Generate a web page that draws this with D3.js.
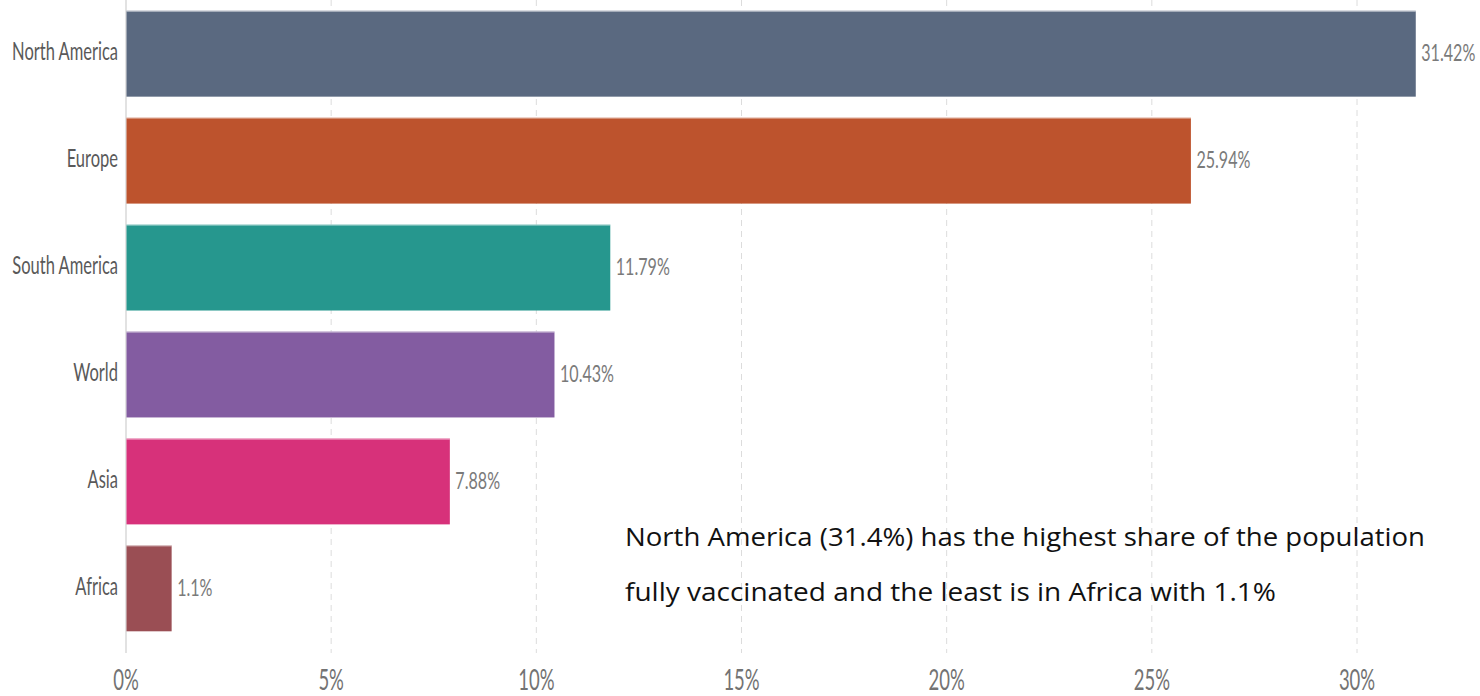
<!DOCTYPE html>
<html><head><meta charset="utf-8">
<script src="https://cdn.jsdelivr.net/npm/d3@7"></script>
<style>html,body{margin:0;padding:0;background:#fff;overflow:hidden}</style>
</head><body>
<svg id="c" width="1480" height="696"></svg>
<script>
const categories = ["North America","Europe","South America","World","Asia","Africa"];
const values = [31.42,25.94,11.79,10.43,7.88,1.1];
const valueLabels = ["31.42%","25.94%","11.79%","10.43%","7.88%","1.1%"];
const colors = ["#5a6980","#bd532d","#26978e","#835ca1","#d7317a","#9a4e54"];
const ticks = [0,5,10,15,20,25,30];
const tickLabels = ["0%","5%","10%","15%","20%","25%","30%"];
const note = ["North America (31.4%) has the highest share of the population","fully vaccinated and the least is in Africa with 1.1%"];

const svg = d3.select("#c");
const x = d3.scaleLinear().domain([0,30]).range([126,1357]);
const y = d3.scaleBand().domain(categories).range([0,642]).paddingInner(0.196).paddingOuter(0.1);
const font = "Lato, 'Open Sans', sans-serif";

// grid
svg.append("g").selectAll("line").data(ticks.filter(t=>t>0)).join("line")
  .attr("x1",d=>x(d)).attr("x2",d=>x(d)).attr("y1",0).attr("y2",653)
  .attr("stroke","#dcdcdc").attr("stroke-width",1).attr("stroke-dasharray","6,5");
svg.append("line").attr("x1",x(0)).attr("x2",x(0)).attr("y1",0).attr("y2",653)
  .attr("stroke","#d8d8d8").attr("stroke-width",1.5);

// bars
svg.append("g").selectAll("rect").data(values).join("rect")
  .attr("x",x(0)+0.5).attr("y",(d,i)=>y(categories[i]))
  .attr("width",d=>x(d)-x(0)).attr("height",y.bandwidth())
  .attr("fill",(d,i)=>colors[i]);
svg.append("g").selectAll("line").data(values).join("line")
  .attr("x1",x(0)+0.5).attr("x2",d=>x(d)+0.5)
  .attr("y1",(d,i)=>y(categories[i])+0.5).attr("y2",(d,i)=>y(categories[i])+0.5)
  .attr("stroke","#fff").attr("stroke-opacity",0.45).attr("stroke-width",1.5);

// category labels
svg.append("g").selectAll("text").data(categories).join("text")
  .attr("transform",d=>`translate(118,${y(d)+y.bandwidth()/2-3}) scale(0.66,1)`)
  .attr("text-anchor","end").attr("dominant-baseline","central")
  .attr("font-family",font).attr("font-size",25).attr("fill","#595959")
  .text(d=>d);

// value labels
svg.append("g").selectAll("text").data(values).join("text")
  .attr("transform",(d,i)=>`translate(${x(d)+6},${y(categories[i])+y.bandwidth()/2-2}) scale(0.7,1)`)
  .attr("dominant-baseline","central")
  .attr("font-family",font).attr("font-size",23).attr("fill","#7a7a7a")
  .text((d,i)=>valueLabels[i]);

// x tick labels
svg.append("g").selectAll("text").data(ticks).join("text")
  .attr("transform",(d)=>`translate(${x(d)},690) scale(0.66,1)`)
  .attr("text-anchor","middle")
  .attr("font-family",font).attr("font-size",28).attr("fill","#737373")
  .text((d,i)=>tickLabels[i]);

// annotation
const noteLens=[800,651];
svg.append("g").selectAll("text").data(note).join("text")
  .attr("x",625).attr("y",(d,i)=>546+i*55)
  .attr("font-family","'Open Sans', 'Noto Sans', sans-serif").attr("font-size",26).attr("fill","#111")
  .attr("textLength",(d,i)=>noteLens[i]).attr("lengthAdjust","spacingAndGlyphs")
  .text(d=>d);
</script>
</body></html>
